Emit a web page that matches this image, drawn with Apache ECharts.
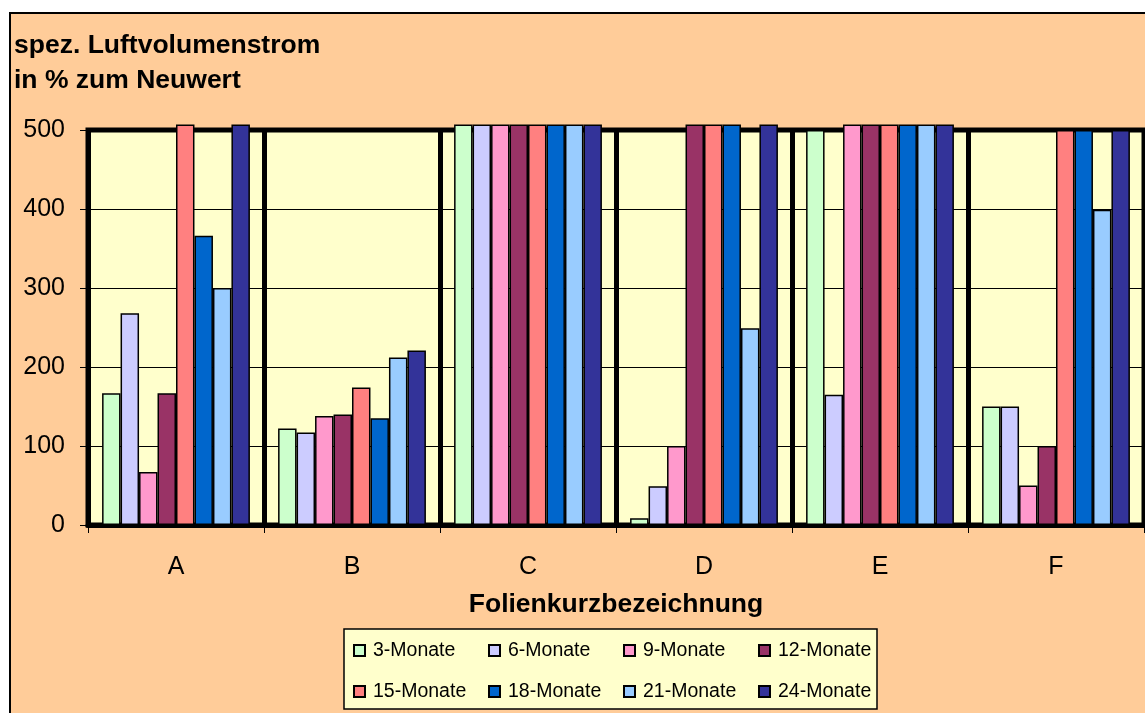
<!DOCTYPE html>
<html>
<head>
<meta charset="utf-8">
<script src="https://cdn.jsdelivr.net/npm/echarts@6/dist/echarts.min.js"></script>
<style>
html,body{margin:0;padding:0;background:#fff;}
#chart{width:1145px;height:713px;}
</style>
</head>
<body>
<div id="chart"></div>
<script>
const categories = ['A', 'B', 'C', 'D', 'E', 'F'];
const seriesNames = ['3-Monate', '6-Monate', '9-Monate', '12-Monate', '15-Monate', '18-Monate', '21-Monate', '24-Monate'];
const m3  = [166.7, 122, 507, 8.5, 500, 150];
const m6  = [268, 117, 507, 49, 165, 150];
const m9  = [67, 138, 507, 100, 507, 50];
const m12 = [166.7, 140, 507, 507, 507, 100];
const m15 = [507, 174, 507, 507, 507, 500];
const m18 = [366, 135, 507, 507, 507, 500];
const m21 = [300, 212, 507, 249, 507, 399];
const m24 = [507, 221, 507, 507, 507, 500];
const seriesValues = [m3, m6, m9, m12, m15, m18, m21, m24];
const colors = ['#CCFFCC', '#CCCCFF', '#FF99CC', '#993366', '#FF8080', '#0066CC', '#99CCFF', '#333399'];
const yTicks = [0, 100, 200, 300, 400, 500];

const FONT = '"Liberation Sans", Arial, sans-serif';
const chart = echarts.init(document.getElementById('chart'));

chart.setOption({
  backgroundColor: '#ffffff',
  animation: false,
  graphic: [{
    type: 'rect',
    z: -10,
    silent: true,
    shape: { x: 10, y: 13, width: 1300, height: 900 },
    style: { fill: '#FFCC99', stroke: '#000', lineWidth: 2 }
  }],
  title: {
    text: 'spez. Luftvolumenstrom\nin % zum Neuwert',
    left: 14,
    top: 28,
    padding: 0,
    textStyle: { fontFamily: FONT, fontSize: 26.5, fontWeight: 'bold', color: '#000', lineHeight: 35 }
  },
  legend: {
    left: 344,
    top: 629,
    width: 520,
    padding: [11, 4, 7, 9],
    itemGap: 20,
    itemWidth: 11,
    itemHeight: 11,
    backgroundColor: '#FFFFCC',
    borderColor: '#000',
    borderWidth: 1.5,
    borderRadius: 0,
    icon: 'rect',
    selectedMode: false,
    itemStyle: { borderColor: '#000', borderWidth: 2 },
    textStyle: { fontFamily: FONT, fontSize: 19.5, color: '#000', width: 95, lineHeight: 21, padding: [0, 0, 0, 3] },
    data: seriesNames
  },
  grid: {
    left: 88,
    right: 1,
    top: 130,
    bottom: 188,
    show: true,
    backgroundColor: '#FFFFCC',
    borderColor: '#000',
    borderWidth: 5,
    containLabel: false
  },
  xAxis: {
    type: 'category',
    data: categories,
    boundaryGap: true,
    name: 'Folienkurzbezeichnung',
    nameLocation: 'middle',
    nameGap: 66,
    nameTextStyle: { fontFamily: FONT, fontSize: 26.5, fontWeight: 'bold', color: '#000' },
    axisLine: { show: true, lineStyle: { color: '#000', width: 5 } },
    axisTick: { show: true, interval: 0, length: 8, lineStyle: { color: '#000', width: 1 } },
    axisLabel: { interval: 0, margin: 30, fontFamily: FONT, fontSize: 25, color: '#000' },
    splitLine: { show: true, interval: 0, lineStyle: { color: '#000', width: 5 } }
  },
  yAxis: {
    type: 'value',
    min: yTicks[0],
    max: yTicks[yTicks.length - 1],
    interval: 100,
    axisLine: { show: false },
    axisTick: { show: true, length: 8, lineStyle: { color: '#000', width: 1 } },
    axisLabel: { margin: 23, fontFamily: FONT, fontSize: 25, color: '#000' },
    splitLine: { show: true, lineStyle: { color: '#000', width: 1 } }
  },
  series: seriesNames.map((name, i) => ({
    name: name,
    type: 'bar',
    data: seriesValues[i],
    clip: false,
    barGap: '0%',
    barCategoryGap: '16%',
    itemStyle: { color: colors[i], borderColor: '#000', borderWidth: 1.5 }
  }))
});
</script>
</body>
</html>
